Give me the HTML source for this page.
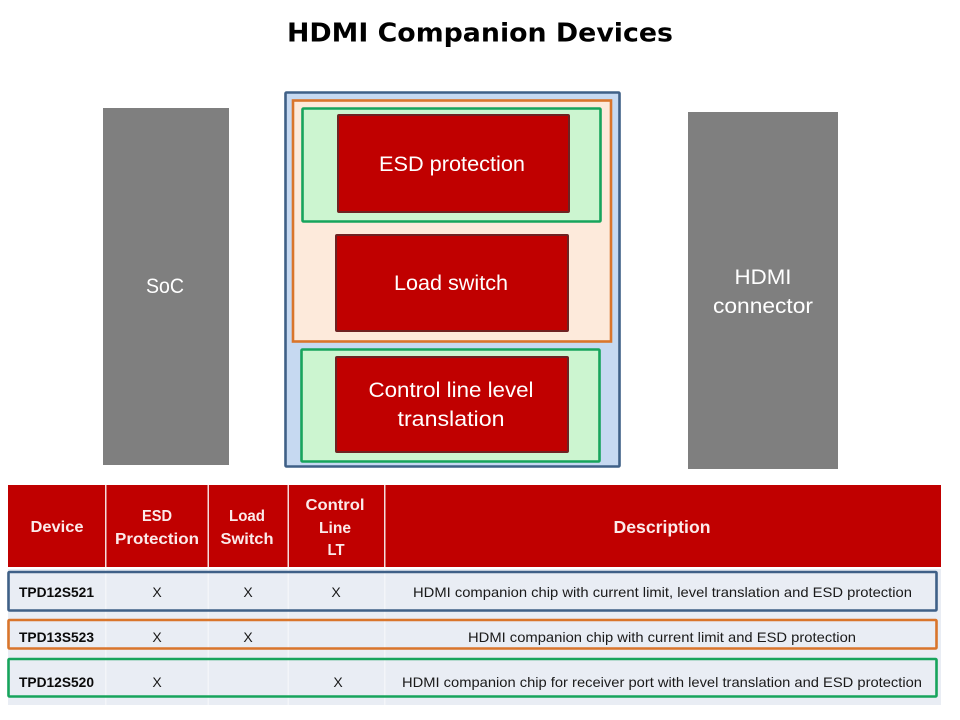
<!DOCTYPE html>
<html><head><meta charset="utf-8"><style>html,body{margin:0;padding:0;background:#fff}svg{display:block}text{font-family:"Liberation Sans",sans-serif}</style></head><body>
<svg width="960" height="720" viewBox="0 0 960 720" xmlns="http://www.w3.org/2000/svg">
<text x="480" y="41.500" text-anchor="middle" style="font-family:'DejaVu Sans',sans-serif;font-weight:bold;font-size:26px" textLength="386" lengthAdjust="spacingAndGlyphs" fill="#000">HDMI Companion Devices</text>
<rect x="103" y="108" width="126" height="357" fill="#7f7f7f"/>
<rect x="688" y="112" width="150" height="357" fill="#7f7f7f"/>
<text x="165" y="293" text-anchor="middle" font-size="21" fill="#fff" textLength="38" lengthAdjust="spacingAndGlyphs">SoC</text>
<text x="763" y="284" text-anchor="middle" font-size="21" fill="#fff" textLength="57" lengthAdjust="spacingAndGlyphs">HDMI</text>
<text x="763" y="313" text-anchor="middle" font-size="21" fill="#fff" textLength="100" lengthAdjust="spacingAndGlyphs">connector</text>
<rect x="285.500" y="92.500" width="334" height="374" rx="1" fill="#c6d9f1" stroke="#3f6087" stroke-width="2.600"/>
<rect x="293" y="100.500" width="318" height="241" fill="#fdeadb" stroke="#d9752b" stroke-width="2.600"/>
<rect x="302.500" y="108.500" width="298" height="113" rx="1" fill="#ccf5d0" stroke="#17a45c" stroke-width="2.600"/>
<rect x="301.500" y="349.500" width="298" height="112" rx="1" fill="#ccf5d0" stroke="#17a45c" stroke-width="2.600"/>
<rect x="338" y="115" width="231" height="97" rx="1" fill="#c00000" stroke="#6e2222" stroke-width="2"/>
<rect x="336" y="235" width="232" height="96" rx="1" fill="#c00000" stroke="#6e2222" stroke-width="2"/>
<rect x="336" y="357" width="232" height="95" rx="1" fill="#c00000" stroke="#6e2222" stroke-width="2"/>
<g font-size="21" fill="#fff" text-anchor="middle">
<text x="452" y="171" textLength="146" lengthAdjust="spacingAndGlyphs">ESD protection</text>
<text x="451" y="290" textLength="114" lengthAdjust="spacingAndGlyphs">Load switch</text>
<text x="451" y="397" textLength="165" lengthAdjust="spacingAndGlyphs">Control line level</text>
<text x="451" y="426" textLength="107" lengthAdjust="spacingAndGlyphs">translation</text>
</g>
<rect x="8" y="485" width="933" height="82" fill="#c00000"/>
<rect x="8" y="569" width="933" height="136" fill="#e9edf4"/>
<g fill="#f3dcdc"><rect x="105" y="485" width="1.500" height="82"/><rect x="207.500" y="485" width="1.500" height="82"/><rect x="287.500" y="485" width="1.500" height="82"/><rect x="384" y="485" width="1.500" height="82"/></g>
<g fill="#f3f5f9"><rect x="105" y="569" width="1.500" height="136"/><rect x="207.500" y="569" width="1.500" height="136"/><rect x="287.500" y="569" width="1.500" height="136"/><rect x="384" y="569" width="1.500" height="136"/></g>
<g font-size="16" font-weight="bold" fill="#fbeaea" text-anchor="middle">
<text x="57" y="532" textLength="53" lengthAdjust="spacingAndGlyphs">Device</text>
<text x="157" y="521" textLength="30" lengthAdjust="spacingAndGlyphs">ESD</text>
<text x="157" y="544" textLength="84" lengthAdjust="spacingAndGlyphs">Protection</text>
<text x="247" y="521" textLength="36" lengthAdjust="spacingAndGlyphs">Load</text>
<text x="247" y="544" textLength="53" lengthAdjust="spacingAndGlyphs">Switch</text>
<text x="335" y="510" textLength="59" lengthAdjust="spacingAndGlyphs">Control</text>
<text x="335" y="533" textLength="32" lengthAdjust="spacingAndGlyphs">Line</text>
<text x="336" y="555" textLength="17" lengthAdjust="spacingAndGlyphs">LT</text>
<text x="662" y="533" font-size="17.500" textLength="97" lengthAdjust="spacingAndGlyphs">Description</text>
</g>
<g fill="none" stroke-width="2.600">
<rect x="8.500" y="572" width="928" height="38.500" rx="1" stroke="#3f6087"/>
<rect x="8.500" y="620" width="928" height="28.500" rx="1" stroke="#d9752b"/>
<rect x="8.500" y="659" width="928" height="37.500" rx="1" stroke="#17a45c"/>
</g>
<g font-size="14" font-weight="bold" fill="#0a0a0a">
<text x="19" y="597" textLength="75" lengthAdjust="spacingAndGlyphs">TPD12S521</text>
<text x="19" y="642" textLength="75" lengthAdjust="spacingAndGlyphs">TPD13S523</text>
<text x="19" y="687" textLength="75" lengthAdjust="spacingAndGlyphs">TPD12S520</text>
</g>
<g font-size="14" fill="#1a1a1a" text-anchor="middle">
<text x="157" y="597">X</text><text x="248" y="597">X</text><text x="336" y="597">X</text>
<text x="157" y="642">X</text><text x="248" y="642">X</text>
<text x="157" y="687">X</text><text x="338" y="687">X</text>
<text x="662.500" y="597" textLength="499" lengthAdjust="spacingAndGlyphs">HDMI companion chip with current limit, level translation and ESD protection</text>
<text x="662" y="642" textLength="388" lengthAdjust="spacingAndGlyphs">HDMI companion chip with current limit and ESD protection</text>
<text x="662" y="687" textLength="520" lengthAdjust="spacingAndGlyphs">HDMI companion chip for receiver port with level translation and ESD protection</text>
</g>
</svg>
</body></html>
